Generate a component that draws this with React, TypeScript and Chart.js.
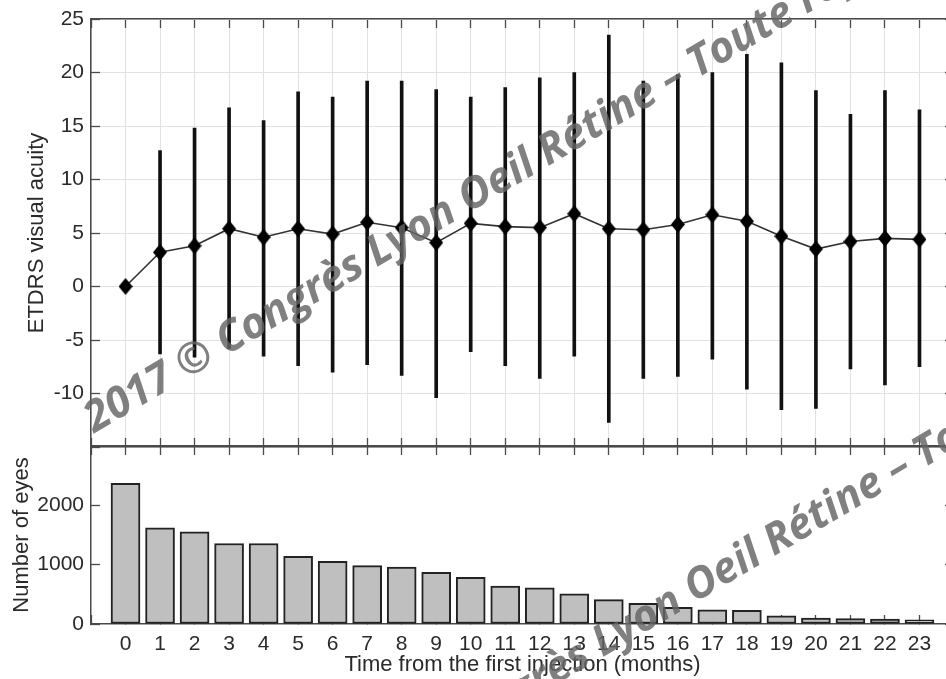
import React, { useEffect, useRef } from "react";
import { Chart, registerables } from "chart.js";

Chart.register(...registerables);

// ---- data ----
const months: number[] = [0, 1, 2, 3, 4, 5, 6, 7, 8, 9, 10, 11, 12, 13, 14, 15, 16, 17, 18, 19, 20, 21, 22, 23];
const meanVA: number[] = [0, 3.2, 3.8, 5.4, 4.6, 5.4, 4.9, 6.0, 5.5, 4.1, 5.9, 5.6, 5.5, 6.8, 5.4, 5.3, 5.8, 6.7, 6.1, 4.7, 3.5, 4.2, 4.5, 4.4];
const upperVA: (number | null)[] = [null, 12.7, 14.8, 16.7, 15.5, 18.2, 17.7, 19.2, 19.2, 18.4, 17.7, 18.6, 19.5, 20.0, 23.5, 19.2, 19.8, 20.0, 21.7, 20.9, 18.3, 16.1, 18.3, 16.5];
const lowerVA: (number | null)[] = [null, -6.3, -6.6, -5.8, -6.5, -7.4, -8.0, -7.3, -8.3, -10.4, -6.1, -7.4, -8.6, -6.5, -12.7, -8.6, -8.4, -6.8, -9.6, -11.5, -11.4, -7.7, -9.2, -7.5];
const eyeCounts: number[] = [2370, 1622, 1554, 1356, 1356, 1141, 1056, 983, 961, 870, 785, 638, 610, 508, 412, 350, 282, 237, 230, 136, 100, 90, 85, 70];
const vaTicks: number[] = [-10, -5, 0, 5, 10, 15, 20, 25];
const countTicks: number[] = [0, 1000, 2000];

const FONT = "'Liberation Sans', Arial, Helvetica, sans-serif";
const AXIS = "#4a4a4a";
const GRID = "#e2e2e2";
const TEXT = "#2a2a2a";

function makeDiamond(): HTMLCanvasElement {
  const c = document.createElement("canvas");
  c.width = 14;
  c.height = 17;
  const g = c.getContext("2d")!;
  g.fillStyle = "#000";
  g.beginPath();
  g.moveTo(7, 0);
  g.lineTo(14, 8.5);
  g.lineTo(7, 17);
  g.lineTo(0, 8.5);
  g.closePath();
  g.fill();
  return c;
}

function frameAxis(pos: string, min: number, max: number, step: number, axis: "x" | "y") {
  return {
    type: "linear",
    axis,
    position: pos,
    min,
    max,
    offset: false,
    ticks: { display: false, stepSize: step },
    grid: { drawOnChartArea: false, drawTicks: true, tickLength: -9, tickColor: AXIS, tickWidth: 1.3, offset: false },
    border: { display: true, color: AXIS, width: 1.5 },
    afterFit: (s: any) => {
      if (axis === "x") s.height = 0;
      else s.width = 0;
      s.paddingTop = 0;
      s.paddingBottom = 0;
      s.paddingLeft = 0;
      s.paddingRight = 0;
    },
  };
}

export default function App() {
  const topRef = useRef<HTMLCanvasElement>(null);
  const botRef = useRef<HTMLCanvasElement>(null);

  useEffect(() => {
    const diamond = makeDiamond();
    const errData = months
      .map((m, i) => (upperVA[i] == null ? null : { x: m, y: [lowerVA[i] as number, upperVA[i] as number] }))
      .filter((d) => d !== null);
    const meanData = months.map((m, i) => ({ x: m, y: meanVA[i] }));

    const top = new Chart(topRef.current!, {
      type: "bar",
      data: {
        datasets: [
          {
            type: "line",
            data: meanData as any,
            borderColor: "#333",
            borderWidth: 1.6,
            pointStyle: diamond as any,
            pointRadius: 8,
            order: 0,
          } as any,
          {
            type: "bar",
            data: errData as any,
            backgroundColor: "#111",
            barThickness: 3,
            borderWidth: 0,
            order: 1,
          } as any,
        ],
      },
      options: {
        responsive: false,
        animation: false,
        devicePixelRatio: 1,
        layout: { padding: { top: 19, left: 0, right: 21, bottom: 0 } },
        plugins: { legend: { display: false }, tooltip: { enabled: false } },
        scales: {
          x: {
            type: "linear",
            position: "bottom",
            min: -1,
            max: 24,
            offset: false,
            ticks: { display: false, stepSize: 1 },
            grid: { color: GRID, lineWidth: 1, drawTicks: true, tickLength: -9, tickColor: AXIS, tickWidth: 1.3, offset: false },
            border: { display: true, color: AXIS, width: 1.5 },
            afterFit: (s: any) => { s.height = 13; s.paddingLeft = 0; s.paddingRight = 0; },
          },
          x2: frameAxis("top", -1, 24, 1, "x"),
          y: {
            type: "linear",
            position: "left",
            min: -15,
            max: 25,
            afterBuildTicks: (s: any) => { s.ticks = [-15, ...vaTicks].map((v) => ({ value: v })); },
            ticks: {
              color: TEXT,
              padding: 16,
              font: { family: FONT, size: 21 },
              callback: (v: any) => (vaTicks.includes(Number(v)) ? String(v) : ""),
            },
            grid: { color: GRID, lineWidth: 1, drawTicks: true, tickLength: -9, tickColor: AXIS, tickWidth: 1.3 },
            border: { display: true, color: AXIS, width: 1.5 },
            title: { display: true, text: "ETDRS visual acuity", color: TEXT, font: { family: FONT, size: 22 }, padding: { top: 24, bottom: 0 } },
            afterFit: (s: any) => { s.width = 91; s.paddingTop = 0; s.paddingBottom = 0; },
          },
          y2: frameAxis("right", -15, 25, 5, "y"),
        } as any,
      },
    });

    const barData = months.map((m, i) => ({ x: m, y: eyeCounts[i] }));
    const bot = new Chart(botRef.current!, {
      type: "bar",
      data: {
        datasets: [
          {
            data: barData as any,
            backgroundColor: "#bfbfbf",
            borderColor: "#222",
            borderWidth: 2,
            borderSkipped: false,
            barThickness: 29,
          } as any,
        ],
      },
      options: {
        responsive: false,
        animation: false,
        devicePixelRatio: 1,
        layout: { padding: { top: 6, left: 0, right: 21, bottom: 0 } },
        plugins: { legend: { display: false }, tooltip: { enabled: false } },
        scales: {
          x: {
            type: "linear",
            position: "bottom",
            min: -1,
            max: 24,
            offset: false,
            afterBuildTicks: (s: any) => { s.ticks = [-1, ...months, 24].map((v) => ({ value: v })); },
            ticks: {
              color: TEXT,
              padding: 17,
              maxRotation: 0,
              autoSkip: false,
              font: { family: FONT, size: 21 },
              callback: (v: any) => (months.includes(Number(v)) ? String(v) : ""),
            },
            grid: { drawOnChartArea: false, drawTicks: true, tickLength: -9, tickColor: AXIS, tickWidth: 1.3, offset: false },
            border: { display: true, color: AXIS, width: 1.5 },
            title: { display: true, text: "Time from the first injection (months)", color: TEXT, font: { family: FONT, size: 22 }, padding: { top: 0, bottom: 1 } },
            afterFit: (s: any) => { s.height = 55; s.paddingLeft = 0; s.paddingRight = 0; },
          },
          x2: frameAxis("top", -1, 24, 1, "x"),
          y: {
            type: "linear",
            position: "left",
            min: 0,
            max: 3000,
            afterBuildTicks: (s: any) => { s.ticks = [...countTicks, 3000].map((v) => ({ value: v })); },
            ticks: {
              color: TEXT,
              padding: 16,
              font: { family: FONT, size: 21 },
              callback: (v: any) => (countTicks.includes(Number(v)) ? String(v) : ""),
            },
            grid: { drawOnChartArea: false, drawTicks: true, tickLength: -9, tickColor: AXIS, tickWidth: 1.3 },
            border: { display: true, color: AXIS, width: 1.5 },
            title: { display: true, text: "Number of eyes", color: TEXT, font: { family: FONT, size: 22 }, padding: { top: 9, bottom: 0 } },
            afterFit: (s: any) => { s.width = 91; s.paddingTop = 0; s.paddingBottom = 0; },
          },
          y2: frameAxis("right", 0, 3000, 1000, "y"),
        } as any,
      },
    });

    return () => {
      top.destroy();
      bot.destroy();
    };
  }, []);

  const wmStyle = (left: number, topPx: number): React.CSSProperties => ({
    position: "absolute",
    left,
    top: topPx,
    transform: "rotate(-30.5deg)",
    transformOrigin: "0 0",
    zIndex: 5,
    pointerEvents: "none",
  });
  const wmText: React.CSSProperties = {
    position: "absolute",
    left: 0,
    bottom: -10,
    whiteSpace: "nowrap",
    lineHeight: 1,
    fontFamily: "'Open Sans', sans-serif",
    fontWeight: 700,
    fontStyle: "italic",
    fontSize: 43,
    color: "rgba(100,100,100,0.82)",
  };
  const wm = "2017 © Congrès Lyon Oeil Rétine – Toute reproduction interdite";

  return (
    <div style={{ position: "fixed", left: 0, top: 0, width: 946, height: 679, overflow: "hidden", background: "#fff" }}>
      <canvas ref={topRef} width={975} height={460} style={{ position: "absolute", left: 0, top: 0 }} />
      <canvas ref={botRef} width={975} height={239} style={{ position: "absolute", left: 0, top: 440 }} />
      <div style={wmStyle(92, 429)}>
        <span style={wmText}>{wm}</span>
      </div>
      <div style={wmStyle(318, 819)}>
        <span style={wmText}>{wm}</span>
      </div>
    </div>
  );
}
